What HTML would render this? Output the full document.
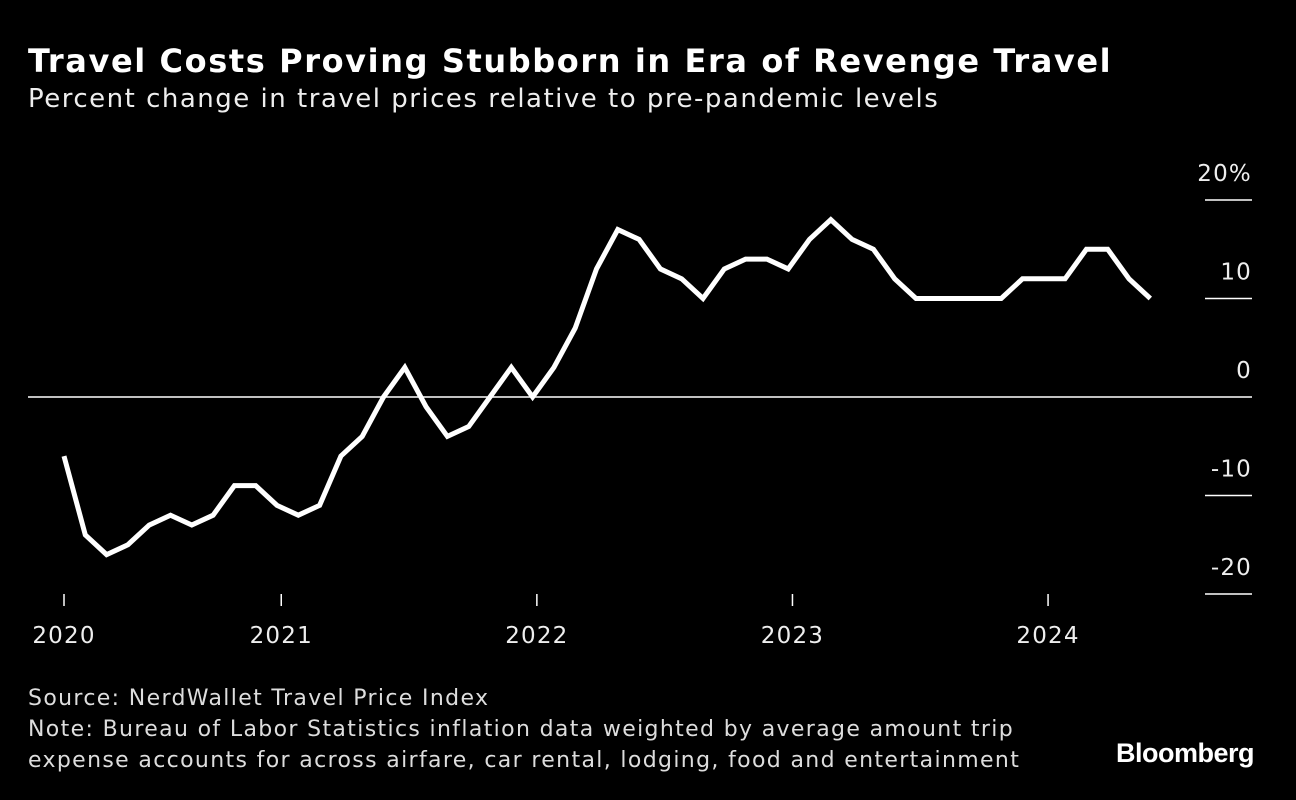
<!DOCTYPE html>
<html><head><meta charset="utf-8"><style>
html,body{margin:0;padding:0;background:#000;width:1296px;height:800px;overflow:hidden}
body{font-family:"DejaVu Sans",sans-serif;color:#fff}
.t{position:absolute;white-space:nowrap}
</style></head><body>
<div class="t" style="left:28px;top:42px;font-size:32px;font-weight:bold;letter-spacing:1.6px">Travel Costs Proving Stubborn in Era of Revenge Travel</div>
<div class="t" style="left:28px;top:84px;font-size:26px;color:#eee;letter-spacing:1.5px">Percent change in travel prices relative to pre-pandemic levels</div>
<svg id="chart" width="1296" height="680" style="position:absolute;left:0;top:0"></svg>
<div class="t" style="left:28px;top:683px;font-size:22px;line-height:31px;color:#ddd;letter-spacing:1.35px">Source: NerdWallet Travel Price Index<br>Note: Bureau of Labor Statistics inflation data weighted by average amount trip<br>expense accounts for across airfare, car rental, lodging, food and entertainment</div>
<div class="t" style="left:1116px;top:738px;font-family:'Liberation Sans',sans-serif;font-size:27px;font-weight:bold;letter-spacing:-0.5px">Bloomberg</div>
<script>
const values=[-6,-14,-16,-15,-13,-12,-13,-12,-9,-9,-11,-12,-11,-6,-4,0,3,-1,-4,-3,0,3,0,3,7,13,17,16,13,12,10,13,14,14,13,16,18,16,15,12,10,10,10,10,10,12,12,12,15,15,12,10];
const yTicks=[20,10,0,-10,-20];
const yTickLabels=["20%","10","0","-10","-20"];
const yearLabels=["2020","2021","2022","2023","2024"];
const yearPos=[0,10.2,22.2,34.2,46.2];
const NS="http://www.w3.org/2000/svg";
const svg=document.getElementById('chart');
const x=i=>64+i*21.3;
const y=v=>397-v*9.85;
function mk(t,a){const e=document.createElementNS(NS,t);for(const k in a)e.setAttribute(k,a[k]);svg.appendChild(e);return e;}
yTicks.forEach((v,k)=>{
  let l;
  if(v===0){l=mk('line',{x1:28,x2:1252,y1:y(v),y2:y(v),stroke:'#fff','stroke-width':1.5});}
  else{l=mk('line',{x1:1205,x2:1252,y1:y(v),y2:y(v),stroke:'#fff','stroke-width':1.5});}
  
  
  const t=mk('text',{x:1252,y:y(v)-19,'text-anchor':'end','font-size':23,fill:'#eee','font-family':'DejaVu Sans, sans-serif','letter-spacing':1.2});
  t.textContent=yTickLabels[k];
  
  
});
yearLabels.forEach((s,k)=>{
  const xx=x(yearPos[k]);
  const l=mk('line',{x1:xx,x2:xx,y1:594,y2:606,stroke:'#fff','stroke-width':1.5});
  
  
  const t=mk('text',{x:xx,y:643,'text-anchor':'middle','font-size':23,fill:'#eee','font-family':'DejaVu Sans, sans-serif','letter-spacing':1.2});
  t.textContent=s;
  
  
});
const p=mk('polyline',{points:values.map((v,i)=>x(i)+','+y(v)).join(' '),fill:'none',stroke:'#fff','stroke-width':5,'stroke-linejoin':'miter'});


</script>
</body></html>
